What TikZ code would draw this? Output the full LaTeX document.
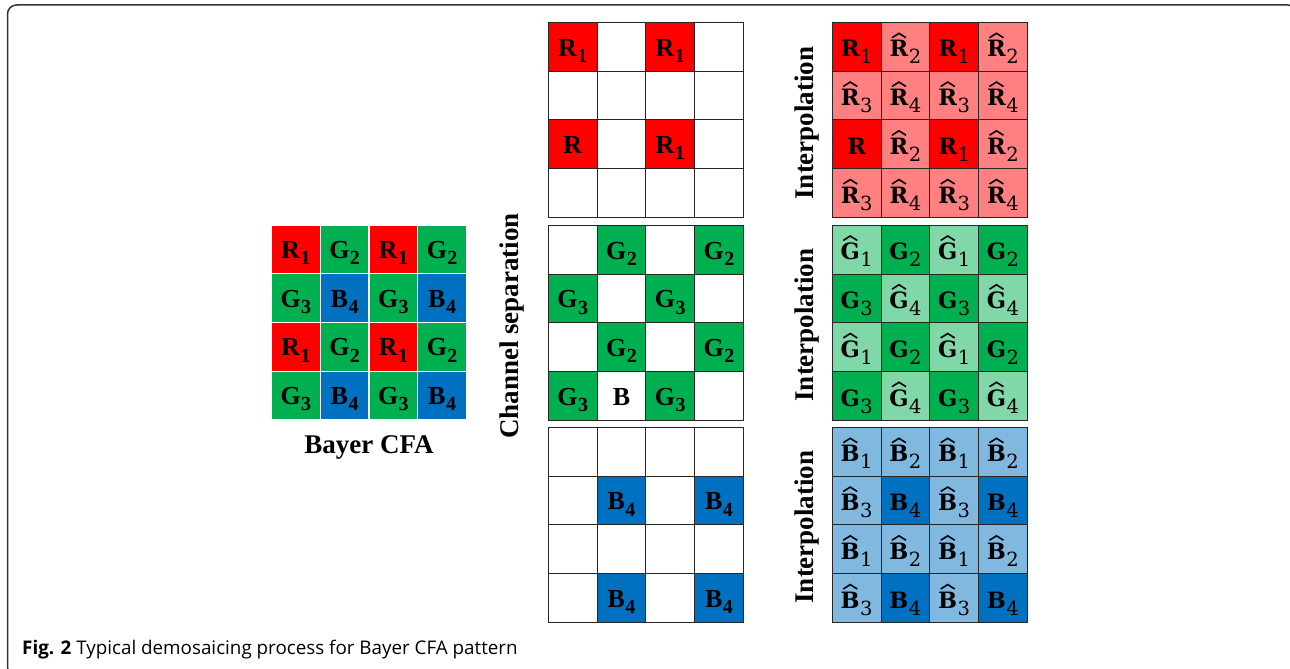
\documentclass[tikz,border=0pt]{standalone}
\usepackage{fontspec}
\setmainfont{Liberation Serif}
\newfontfamily\capfont{Open Sans}
\newfontfamily\hfont{DejaVu Serif}
\definecolor{cR}{HTML}{FF0000}
\definecolor{cG}{HTML}{00B050}
\definecolor{cB}{HTML}{0070C0}
\definecolor{lR}{HTML}{FF8080}
\definecolor{lG}{HTML}{80D8A8}
\definecolor{lB}{HTML}{80B8E0}
\definecolor{gridline}{HTML}{262626}
\definecolor{framecol}{HTML}{333333}
% Times-like label with subscript
\newcommand\Ts[2]{#1\kern0.5pt\raisebox{-6.3pt}[0pt][0pt]{\fontsize{20}{20}\selectfont #2}}
% hat drawn above a letter
\newlength\hatw
\newcommand\hatbox[1]{\setbox0=\hbox{#1}\setlength\hatw{\wd0}%
  \makebox[\hatw]{\hss\raisebox{\dimexpr\ht0+2.8pt\relax}[0pt][0pt]{\tikz[x=1pt,y=1pt,baseline=0pt]\draw[line width=1.6pt,line join=miter,line cap=butt,black] (0,0)--(7,4.4)--(14,0);}\hss}%
  \kern-\hatw\box0}
% Cambria-like labels (right grids)
\newcommand\Cs[2]{{\hfont\bfseries #1}\kern0.5pt\raisebox{-7pt}[0pt][0pt]{\hfont\fontsize{19.5}{19.5}\selectfont #2}}
\newcommand\Hs[2]{\hatbox{\hfont\bfseries #1}\kern0.5pt\raisebox{-7pt}[0pt][0pt]{\hfont\fontsize{19.5}{19.5}\selectfont #2}}
\newcommand\Cn[1]{{\hfont\bfseries #1}}
\newcommand\grid[5]{%
  \foreach \cc/\rr/\ff/\lab in {#4} {%
    \node[#5, fill=\ff, name=#1-\cc-\rr] at ({#2+\cc*48.75},{#3+\rr*48.75}) {\lab};
  }%
}
\tikzset{
  cellbase/.style={minimum width=48.75pt, minimum height=48.75pt, inner sep=0pt, outer sep=0pt, anchor=north west, text depth=0pt},
  bayercell/.style={cellbase, draw=white, line width=1.2pt, text height=17.8pt, font=\fontsize{26}{26}\selectfont\bfseries},
  midcell/.style={cellbase, draw=gridline, line width=1pt, text height=18.8pt, font=\fontsize{26}{26}\selectfont\bfseries},
  rgtcell/.style={cellbase, draw=gridline, line width=1pt, text height=20.5pt, font=\fontsize{22.5}{22.5}\selectfont},
  sidelabel/.style={font=\fontsize{27}{27}\selectfont\bfseries, inner sep=0pt},
  framebox/.style={draw=framecol, line width=1.5pt, rounded corners=9pt}
}
\begin{document}
\begin{tikzpicture}[x=1pt,y=-1pt]
\useasboundingbox (0,0) rectangle (1290,669);
\begin{scope}
  \clip (0,0) rectangle (1290,669);
  \draw[framebox] (7.5,5) rectangle (1297,676);
\end{scope}

% Bayer CFA
\grid{bay}{271.5}{225}{%
 0/0/cR/{\Ts{R}{1}},1/0/cG/{\Ts{G}{2}},2/0/cR/{\Ts{R}{1}},3/0/cG/{\Ts{G}{2}},
 0/1/cG/{\Ts{G}{3}},1/1/cB/{\Ts{B}{4}},2/1/cG/{\Ts{G}{3}},3/1/cB/{\Ts{B}{4}},
 0/2/cR/{\Ts{R}{1}},1/2/cG/{\Ts{G}{2}},2/2/cR/{\Ts{R}{1}},3/2/cG/{\Ts{G}{2}},
 0/3/cG/{\Ts{G}{3}},1/3/cB/{\Ts{B}{4}},2/3/cG/{\Ts{G}{3}},3/3/cB/{\Ts{B}{4}}}{bayercell}
\node[sidelabel] (bayername) at (369,447) {Bayer CFA};

% Channel separation
\grid{mr}{548.3}{22.3}{%
 0/0/cR/{\Ts{R}{1}},1/0/white/{},2/0/cR/{\Ts{R}{1}},3/0/white/{},
 0/1/white/{},1/1/white/{},2/1/white/{},3/1/white/{},
 0/2/cR/{R},1/2/white/{},2/2/cR/{\Ts{R}{1}},3/2/white/{},
 0/3/white/{},1/3/white/{},2/3/white/{},3/3/white/{}}{midcell}
\grid{mg}{548.3}{225.3}{%
 0/0/white/{},1/0/cG/{\Ts{G}{2}},2/0/white/{},3/0/cG/{\Ts{G}{2}},
 0/1/cG/{\Ts{G}{3}},1/1/white/{},2/1/cG/{\Ts{G}{3}},3/1/white/{},
 0/2/white/{},1/2/cG/{\Ts{G}{2}},2/2/white/{},3/2/cG/{\Ts{G}{2}},
 0/3/cG/{\Ts{G}{3}},1/3/white/{B},2/3/cG/{\Ts{G}{3}},3/3/white/{}}{midcell}
\grid{mb}{548.3}{427.3}{%
 0/0/white/{},1/0/white/{},2/0/white/{},3/0/white/{},
 0/1/white/{},1/1/cB/{\Ts{B}{4}},2/1/white/{},3/1/cB/{\Ts{B}{4}},
 0/2/white/{},1/2/white/{},2/2/white/{},3/2/white/{},
 0/3/white/{},1/3/cB/{\Ts{B}{4}},2/3/white/{},3/3/cB/{\Ts{B}{4}}}{midcell}
\node[sidelabel, rotate=90] (chsep) at (512,326) {Channel separation};

% Interpolation
\grid{rr}{832.3}{22.3}{%
 0/0/cR/{\Cs{R}{1}},1/0/lR/{\Hs{R}{2}},2/0/cR/{\Cs{R}{1}},3/0/lR/{\Hs{R}{2}},
 0/1/lR/{\Hs{R}{3}},1/1/lR/{\Hs{R}{4}},2/1/lR/{\Hs{R}{3}},3/1/lR/{\Hs{R}{4}},
 0/2/cR/{\Cn{R}},1/2/lR/{\Hs{R}{2}},2/2/cR/{\Cs{R}{1}},3/2/lR/{\Hs{R}{2}},
 0/3/lR/{\Hs{R}{3}},1/3/lR/{\Hs{R}{4}},2/3/lR/{\Hs{R}{3}},3/3/lR/{\Hs{R}{4}}}{rgtcell}
\grid{rg}{832.3}{225.3}{%
 0/0/lG/{\Hs{G}{1}},1/0/cG/{\Cs{G}{2}},2/0/lG/{\Hs{G}{1}},3/0/cG/{\Cs{G}{2}},
 0/1/cG/{\Cs{G}{3}},1/1/lG/{\Hs{G}{4}},2/1/cG/{\Cs{G}{3}},3/1/lG/{\Hs{G}{4}},
 0/2/lG/{\Hs{G}{1}},1/2/cG/{\Cs{G}{2}},2/2/lG/{\Hs{G}{1}},3/2/cG/{\Cs{G}{2}},
 0/3/cG/{\Cs{G}{3}},1/3/lG/{\Hs{G}{4}},2/3/cG/{\Cs{G}{3}},3/3/lG/{\Hs{G}{4}}}{rgtcell}
\grid{rb}{832.3}{427.3}{%
 0/0/lB/{\Hs{B}{1}},1/0/lB/{\Hs{B}{2}},2/0/lB/{\Hs{B}{1}},3/0/lB/{\Hs{B}{2}},
 0/1/lB/{\Hs{B}{3}},1/1/cB/{\Cs{B}{4}},2/1/lB/{\Hs{B}{3}},3/1/cB/{\Cs{B}{4}},
 0/2/lB/{\Hs{B}{1}},1/2/lB/{\Hs{B}{2}},2/2/lB/{\Hs{B}{1}},3/2/lB/{\Hs{B}{2}},
 0/3/lB/{\Hs{B}{3}},1/3/cB/{\Cs{B}{4}},2/3/lB/{\Hs{B}{3}},3/3/cB/{\Cs{B}{4}}}{rgtcell}
\node[sidelabel, rotate=90] (interpR) at (807,123) {Interpolation};
\node[sidelabel, rotate=90] (interpG) at (807,325) {Interpolation};
\node[sidelabel, rotate=90] (interpB) at (807,527) {Interpolation};

% Caption
\node[anchor=base west, inner sep=0pt, font=\capfont\fontsize{18.8}{18.8}\selectfont] (caption) at (22,654) {\textbf{Fig. 2} Typical demosaicing process for Bayer CFA pattern};
\end{tikzpicture}
\end{document}
